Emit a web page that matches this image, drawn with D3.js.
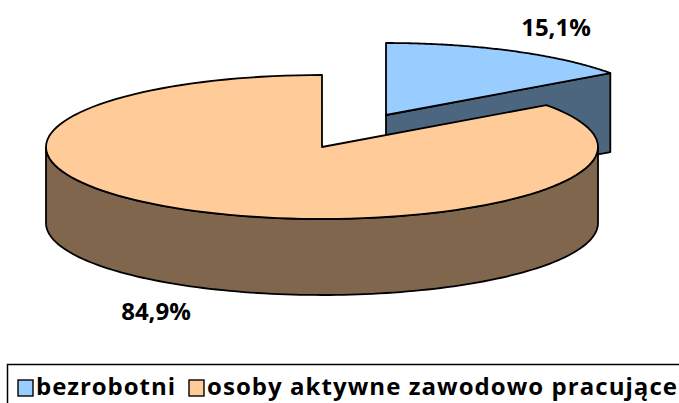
<!DOCTYPE html>
<html>
<head>
<meta charset="utf-8">
<script src="https://cdn.jsdelivr.net/npm/d3@7"></script>
<style>
html,body{margin:0;padding:0;background:#fff;overflow:hidden}
svg{display:block}
text{font-family:"Open Sans","Liberation Sans",Arial,sans-serif;font-weight:bold;fill:#000}
</style>
</head>
<body>
<svg id="c" width="679" height="403"></svg>
<script>
const categories = ["bezrobotni", "osoby aktywne zawodowo pracujące"];
const values = [15.1, 84.9];
const valueLabels = ["15,1%", "84,9%"];
const topColors = ["#99CCFF", "#FFCC99"];
const sideColors = ["#4D6680", "#80664D"];

const svg = d3.select("#c");
const rx = 276, ry = 72, depth = 79, wallDepth = 76;
const centers = [[386, 115], [322, 147]];
const arcs = d3.pie().sort(null).value(d => d)(values);

const pt = (c, a, dy = 0) => [c[0] + rx * Math.sin(a), c[1] - ry * Math.cos(a) + dy];
const line = d3.line();
const rim = (c, a0, a1, dy = 0) => d3.range(0, 121).map(i => pt(c, a0 + (a1 - a0) * i / 120, dy));
const stroke = g => g.attr("stroke", "#000").attr("stroke-width", 1.8).attr("stroke-linejoin", "round");

const a = arcs[0], b = arcs[1];
const cB = centers[0], cO = centers[1];
const pB = pt(cB, a.endAngle);
svg.append("path")
  .attr("d", line([cB, pB, [pB[0], pB[1] + depth], [cB[0], cB[1] + depth]]) + "Z")
  .attr("fill", sideColors[0]).call(stroke);
svg.append("path")
  .attr("d", line([cB, ...rim(cB, a.startAngle, a.endAngle)]) + "Z")
  .attr("fill", topColors[0]).call(stroke);

const wallStart = Math.PI / 2, wallEnd = Math.PI * 1.5;
svg.append("path")
  .attr("d", line([...rim(cO, wallStart, wallEnd), ...rim(cO, wallEnd, wallStart, wallDepth)]) + "Z")
  .attr("fill", sideColors[1]).call(stroke);
svg.append("path")
  .attr("d", line([cO, ...rim(cO, b.startAngle, b.endAngle)]) + "Z")
  .attr("fill", topColors[1]).call(stroke);

const labelPos = [[556, 36], [156, 320]];
svg.selectAll("text.v").data(valueLabels).join("text")
  .attr("class", "v").attr("text-anchor", "middle")
  .attr("x", (d, i) => labelPos[i][0]).attr("y", (d, i) => labelPos[i][1])
  .attr("font-size", 24).text(d => d);

svg.append("path").attr("d", "M679,364.5H7.5V403").attr("fill", "none").attr("stroke", "#000").attr("stroke-width", 1.5);
const legendX = [18, 189];
const textX = [36, 207];
const textW = [139, 470];
categories.forEach((cat, i) => {
  svg.append("rect").attr("x", legendX[i]).attr("y", 380).attr("width", 15).attr("height", 16)
    .attr("fill", topColors[i]).attr("stroke", "#000").attr("stroke-width", 1.4);
  svg.append("text").attr("x", textX[i]).attr("y", 395).attr("font-size", 24)
    .attr("textLength", textW[i]).attr("lengthAdjust", "spacing").text(cat);
});
</script>
</body>
</html>
